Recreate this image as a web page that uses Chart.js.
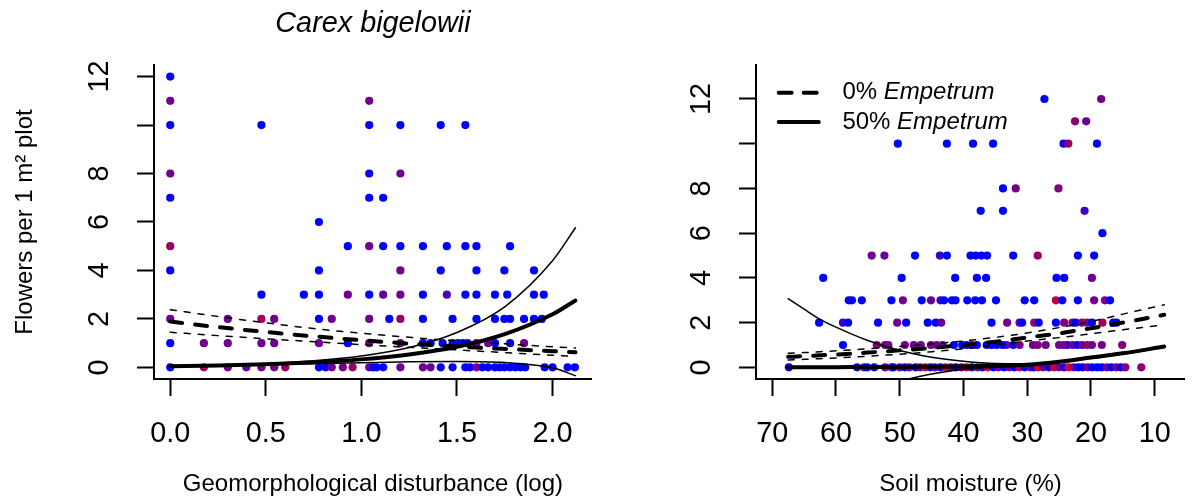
<!DOCTYPE html>
<html>
<head>
<meta charset="utf-8">
<script src="https://cdn.jsdelivr.net/npm/chart.js@4/dist/chart.umd.min.js"></script>
<style>
  html, body { margin: 0; padding: 0; background: #fff; }
  #wrap { position: relative; width: 1192px; height: 499px; }
  .panel { position: absolute; top: 0; width: 596px; height: 499px; }
</style>
</head>
<body>
<div id="wrap">
  <div class="panel" style="left:0"><canvas id="left" width="596" height="499"></canvas></div>
  <div class="panel" style="left:596px"><canvas id="right" width="596" height="499"></canvas></div>
</div>
<script>
const family = "'Liberation Sans', Arial, Helvetica, sans-serif";
Chart.defaults.font.family = family;
Chart.defaults.color = '#000';

// ---------- left panel: geomorphological disturbance ----------
const distTicks = [0, 0.5, 1, 1.5, 2];
const flowerTicks = [0, 2, 4, 6, 8, 10, 12];

// plots grouped by flower count; cover = Empetrum share (0 blue .. 1 red)
const distRowY = [12, 11, 10, 8, 7, 6, 5, 4, 3, 2, 1, 0];
const distRowX = [
  [0],
  [0, 1.041],
  [0, 0.477, 1.041, 1.204, 1.415, 1.544],
  [0, 1.041, 1.204],
  [0, 1.041, 1.114],
  [0.778],
  [0, 0.929, 1.041, 1.114, 1.204, 1.322, 1.447, 1.544, 1.602, 1.778],
  [0, 0.778, 1.204, 1.415, 1.602, 1.748, 1.903],
  [0.477, 0.699, 0.778, 0.929, 1.041, 1.114, 1.204, 1.322, 1.447, 1.544, 1.602, 1.699, 1.763, 1.903, 1.954],
  [0, 0.301, 0.477, 0.544, 0.778, 0.845, 1.041, 1.146, 1.204, 1.322, 1.477, 1.602, 1.699, 1.748, 1.778, 1.851, 1.903, 1.944],
  [0, 0.176, 0.301, 0.477, 0.544, 0.778, 0.929, 1.041, 1.204, 1.322, 1.362, 1.425, 1.477, 1.505, 1.531, 1.556, 1.602, 1.663, 1.699, 1.778, 1.851],
  [0, 0.176, 0.301, 0.398, 0.477, 0.544, 0.602, 0.778, 0.813, 0.845, 0.903, 0.954, 1.041, 1.062, 1.079, 1.114, 1.204, 1.322, 1.362, 1.415,
   1.477, 1.544, 1.568, 1.602, 1.633, 1.663, 1.699, 1.724, 1.748, 1.778, 1.806, 1.833, 1.857, 1.959, 2.0, 2.079, 2.117]
];
const distRowCover = [
  [0],
  [0.45, 0.45],
  [0, 0, 0, 0, 0, 0],
  [0.45, 0, 0.45],
  [0, 0, 0],
  [0],
  [0.6, 0, 0.45, 0, 0, 0, 0, 0, 0, 0],
  [0, 0, 0.45, 0, 0, 0, 0],
  [0, 0, 0, 0.45, 0, 0.4, 0.45, 0, 0.3, 0, 0, 0, 0, 0, 0],
  [0.45, 0.45, 0.65, 0.45, 0, 0.45, 0.45, 0, 0.6, 0, 0, 0, 0, 0, 0, 0, 0, 0],
  [0, 0.45, 0.45, 0.4, 0.45, 0.45, 0, 0.45, 0.45, 0, 0, 0, 0, 0, 0, 0, 0.45, 0.45, 0, 0, 0.45],
  [0, 0.65, 0.45, 0.4, 0.45, 0.45, 0.6, 0, 0, 0.45, 0.45, 0.6, 0.45, 0, 0, 0, 0.45, 0.45, 0.4, 0,
   0, 0, 0, 0.5, 0, 0, 0, 0, 0, 0, 0, 0, 0, 0, 0, 0, 0]
];

// fitted curves (0% and 50% Empetrum) with their confidence bands
const distCurveX = [0, 0.25, 0.5, 0.75, 1, 1.25, 1.5, 1.75, 2, 2.12];
const dist0Fit = [1.89, 1.66, 1.46, 1.28, 1.12, 0.98, 0.86, 0.76, 0.67, 0.62];
const dist0Hi  = [2.38, 2.10, 1.84, 1.60, 1.41, 1.24, 1.09, 0.97, 0.85, 0.80];
const dist0Lo  = [1.45, 1.31, 1.18, 1.06, 0.94, 0.83, 0.72, 0.61, 0.50, 0.45];
const dist50Fit = [0.05, 0.08, 0.13, 0.21, 0.33, 0.53, 0.85, 1.37, 2.19, 2.76];
const dist50Hi  = [0.05, 0.09, 0.15, 0.27, 0.47, 0.82, 1.44, 2.50, 4.40, 5.76];
const dist50Lo  = [0.05, 0.07, 0.11, 0.15, 0.19, 0.23, 0.24, 0.20, -0.02, -0.34];

// ---------- right panel: soil moisture ----------
const moistTicks = [70, 60, 50, 40, 30, 20, 10];

const moistRowY = [12, 11, 10, 8, 7, 6, 5, 4, 3, 2, 1, 0];
const moistRowX = [
  [27.3, 18.4],
  [22.5, 20.75],
  [50.3, 42.6, 38.5, 35.35, 24.3, 23.55, 19.06],
  [33.8, 31.8, 25.1],
  [37.3, 33.8, 21.0],
  [18.2],
  [54.4, 52.4, 47.6, 43.7, 42.6, 38.9, 38.1, 37.2, 36.3, 32.2, 28.35, 22.05, 19.5],
  [62.0, 49.7, 41.3, 37.9, 36.45, 25.4, 24.2, 19.85],
  [58.0, 57.5, 55.95, 51.3, 49.5, 46.55, 45.1, 43.6, 43.05, 41.8, 41.25, 39.4, 38.15, 37.1, 34.9, 30.4, 28.9, 25.5, 24.5, 22.05,
   19.5, 17.8, 17.0],
  [62.65, 58.9, 58.1, 53.4, 50.4, 49.0, 45.6, 44.35, 43.5, 35.6, 33.15, 31.2, 30.8, 28.9, 28.2, 25.5, 24.2, 22.9, 22.4, 21.4,
   20.6, 19.85, 18.2, 16.5, 16.0],
  [58.9, 53.6, 52.3, 51.8, 49.2, 46.7, 45.1, 43.3, 41.5, 40.2, 38.7, 37.9, 36.35, 34.8, 33.25, 32.2, 31.2, 29.1, 28.35, 27.1,
   25.0, 23.7, 22.9, 22.15, 20.6, 19.85, 18.3, 15.1, 39.5, 35.6, 33.9, 44.2, 47.8, 24.3, 21.4],
  [67.4, 56.7, 55.6, 55.1, 54.0, 52.3, 51.3, 51.0, 50.0, 49.2, 48.5, 47.5, 46.8, 46.0, 45.2, 44.5, 43.6, 42.8, 42.0, 41.2,
   40.3, 39.5, 38.7, 37.8, 37.0, 36.2, 35.3, 34.5, 33.6, 32.8, 32.0, 31.2, 30.4, 29.5, 29.0, 28.3, 27.5, 26.6, 25.8, 25.0,
   24.2, 23.5, 22.7, 22.0, 21.3, 20.5, 19.8, 19.0, 18.3, 17.5, 16.8, 16.0, 15.3, 14.6, 12.1]
];
const moistRowCover = [
  [0, 0.45],
  [0.55, 0.4],
  [0, 0, 0, 0, 0, 0.6, 0],
  [0, 0.45, 0.5],
  [0, 0, 0.25],
  [0],
  [0.45, 0.4, 0, 0.2, 0, 0, 0, 0, 0, 0, 0.6, 0, 0],
  [0, 0, 0, 0, 0, 0, 0, 0.45],
  [0, 0, 0, 0, 0.45, 0, 0.4, 0.2, 0, 0, 0, 0, 0, 0, 0, 0, 0, 0.75, 0, 0,
   0.45, 0.5, 0],
  [0, 0.2, 0, 0, 0.45, 0, 0, 0, 0.4, 0, 0.45, 0.4, 0, 0.6, 0, 0, 0.5, 0.45, 0, 0.5,
   0.5, 0, 0.65, 0, 0],
  [0, 0.5, 0.45, 0.45, 0.45, 0.45, 0.45, 0.45, 0, 0, 0.45, 0, 0, 0, 0.45, 0, 0.45, 0.45, 0.5, 0.45,
   0.45, 0, 0.45, 0, 0.6, 0.45, 0.45, 0.5, 0, 0, 0, 0.45, 0.45, 0.45, 0.45],
  [0, 0, 0.4, 0, 0, 0.45, 0.5, 0, 0.45, 0, 0.45, 0, 0.45, 0.8, 0, 0.45, 0, 0.85, 0.45, 0,
   0.45, 0.9, 0, 0.45, 0, 0.85, 0, 0.45, 0, 0.45, 0, 0.8, 0, 0.45, 0, 0.85, 0.45, 0, 0.8, 0.45,
   0, 0.9, 0.45, 0, 0, 0.45, 0, 0, 0, 0.45, 0, 0.45, 0, 0.5, 0.55]
];

const moistCurveX = [67.5, 65, 62.5, 60, 55, 50, 45, 40, 35, 30, 25, 20, 15, 8.5];
const moist0Fit = [0.47, 0.50, 0.54, 0.57, 0.66, 0.76, 0.87, 1.00, 1.15, 1.33, 1.52, 1.75, 2.00, 2.35];
const moist0Hi  = [0.63, 0.66, 0.70, 0.74, 0.83, 0.93, 1.05, 1.18, 1.34, 1.54, 1.78, 2.05, 2.38, 2.80];
const moist0Lo  = [0.33, 0.36, 0.39, 0.42, 0.50, 0.59, 0.70, 0.83, 1.00, 1.18, 1.33, 1.50, 1.68, 1.90];
const moist50Fit = [0.00, 0.00, 0.01, 0.01, 0.02, 0.02, 0.03, 0.04, 0.07, 0.12, 0.25, 0.44, 0.63, 0.93];
const moist50Hi  = [3.07, 2.60, 2.15, 1.80, 1.20, 0.75, 0.45, 0.27, 0.17, 0.16, 0.27, 0.47, 0.66, 0.96];
const moist50Lo  = [-2.6, -2.1, -1.75, -1.45, -1.05, -0.62, -0.30, -0.08, 0.0, 0.07, 0.22, 0.41, 0.60, 0.90];

// ---------- helpers ----------
const ramp = f => `rgb(${Math.round(255 * f)}, 0, ${Math.round(255 * (1 - f))})`;

function scatterSet(rowY, rowX, rowCover) {
  const data = [], colors = [];
  rowY.forEach((y, i) => {
    rowX[i].forEach((x, j) => {
      data.push({ x: x, y: y });
      colors.push(ramp(rowCover[i][j]));
    });
  });
  return {
    data: data,
    pointRadius: 4.1,
    pointBorderWidth: 0,
    pointBackgroundColor: colors,
    showLine: false,
    order: 10
  };
}

function curveSet(xs, ys, thick, dashed) {
  return {
    data: xs.map((x, i) => ({ x: x, y: ys[i] })),
    showLine: true,
    pointRadius: 0,
    borderColor: '#000',
    borderWidth: thick ? 4 : 1.5,
    borderDash: dashed ? (thick ? [12, 13] : [6, 8]) : [],
    borderCapStyle: 'round',
    cubicInterpolationMode: 'monotone',
    fill: false,
    order: 1
  };
}

function axis(o) {
  return {
    type: 'linear',
    min: o.min,
    max: o.max,
    reverse: !!o.reverse,
    afterBuildTicks: s => { s.ticks = o.ticks.map(v => ({ value: v })); },
    afterFit: s => {
      if (o.width) s.width = o.width;
      if (o.height) s.height = o.height;
    },
    border: { display: true, color: '#000', width: 2 },
    grid: { drawOnChartArea: false, tickLength: 17, tickWidth: 2, tickColor: '#000' },
    ticks: {
      autoSkip: false,
      color: '#000',
      font: { size: 28.8 },
      padding: 21,
      minRotation: o.vertical ? 90 : 0,
      maxRotation: o.vertical ? 90 : 0,
      crossAlign: o.vertical ? 'center' : 'near',
      callback: o.label
    },
    title: o.title ? {
      display: true,
      text: o.title,
      color: '#000',
      font: { size: 24 },
      padding: o.vertical ? { top: 11, bottom: 0 } : { top: 0, bottom: 0 }
    } : { display: false }
  };
}

const countLabel = v => (v === 10 ? '' : String(v));

// legend drawn inside the right panel: dashed = 0%, solid = 50% Empetrum
const keyLabels = ['0% ', '50% '];
const empetrumKey = {
  id: 'empetrumKey',
  afterDraw(chart) {
    const ctx = chart.ctx;
    const a = chart.chartArea;
    ctx.save();
    keyLabels.forEach((lab, i) => {
      const y = a.top + 27.7 + i * 29.3;
      ctx.beginPath();
      ctx.lineWidth = 4;
      ctx.lineCap = 'round';
      ctx.strokeStyle = '#000';
      ctx.setLineDash(i === 0 ? [13, 12] : []);
      ctx.moveTo(a.left + 22.7, y);
      ctx.lineTo(a.left + 62.8, y);
      ctx.stroke();
      ctx.setLineDash([]);
      ctx.fillStyle = '#000';
      ctx.textBaseline = 'middle';
      ctx.font = '24px ' + family;
      const x0 = a.left + 86.4;
      ctx.fillText(lab, x0, y);
      const w = ctx.measureText(lab).width;
      ctx.font = 'italic 24px ' + family;
      ctx.fillText('Empetrum', x0 + w, y);
    });
    ctx.restore();
  }
};

const common = {
  responsive: false,
  animation: false,
  events: [],
  plugins: { legend: { display: false }, tooltip: { enabled: false } }
};

new Chart(document.getElementById('left'), {
  type: 'scatter',
  data: {
    datasets: [
      curveSet(distCurveX, dist0Fit, true, true),
      curveSet(distCurveX, dist0Hi, false, true),
      curveSet(distCurveX, dist0Lo, false, true),
      curveSet(distCurveX, dist50Fit, true, false),
      curveSet(distCurveX, dist50Hi, false, false),
      curveSet(distCurveX, dist50Lo, false, false),
      scatterSet(distRowY, distRowX, distRowCover)
    ]
  },
  options: Object.assign({}, common, {
    layout: { padding: { left: 0, right: 2, top: 0, bottom: 0 } },
    plugins: Object.assign({}, common.plugins, {
      title: {
        display: true,
        text: 'Carex bigelowii',
        fullSize: false,
        color: '#000',
        font: { size: 28.8, style: 'italic', weight: 'normal' },
        padding: { top: 6.7, bottom: 23.7 }
      }
    }),
    scales: {
      x: axis({ min: -0.085, max: 2.206, ticks: distTicks, height: 120,
                label: v => v.toFixed(1), title: 'Geomorphological disturbance (log)' }),
      y: axis({ min: -0.48, max: 12.48, ticks: flowerTicks, width: 154, vertical: true,
                label: countLabel, title: 'Flowers per 1 m\u00B2 plot' })
    }
  })
});

new Chart(document.getElementById('right'), {
  type: 'scatter',
  data: {
    datasets: [
      curveSet(moistCurveX, moist0Fit, true, true),
      curveSet(moistCurveX, moist0Hi, false, true),
      curveSet(moistCurveX, moist0Lo, false, true),
      curveSet(moistCurveX, moist50Fit, true, false),
      curveSet(moistCurveX, moist50Hi, false, false),
      curveSet(moistCurveX, moist50Lo, false, false),
      scatterSet(moistRowY, moistRowX, moistRowCover)
    ]
  },
  options: Object.assign({}, common, {
    layout: { padding: { left: 0, right: 1, top: 65, bottom: 0 } },
    scales: {
      x: axis({ min: 5.25, max: 72.55, reverse: true, ticks: moistTicks, height: 120,
                label: v => String(v), title: 'Soil moisture (%)' }),
      y: axis({ min: -0.52, max: 13.52, ticks: flowerTicks, width: 160, vertical: true,
                label: countLabel })
    }
  }),
  plugins: [empetrumKey]
});
</script>
</body>
</html>
